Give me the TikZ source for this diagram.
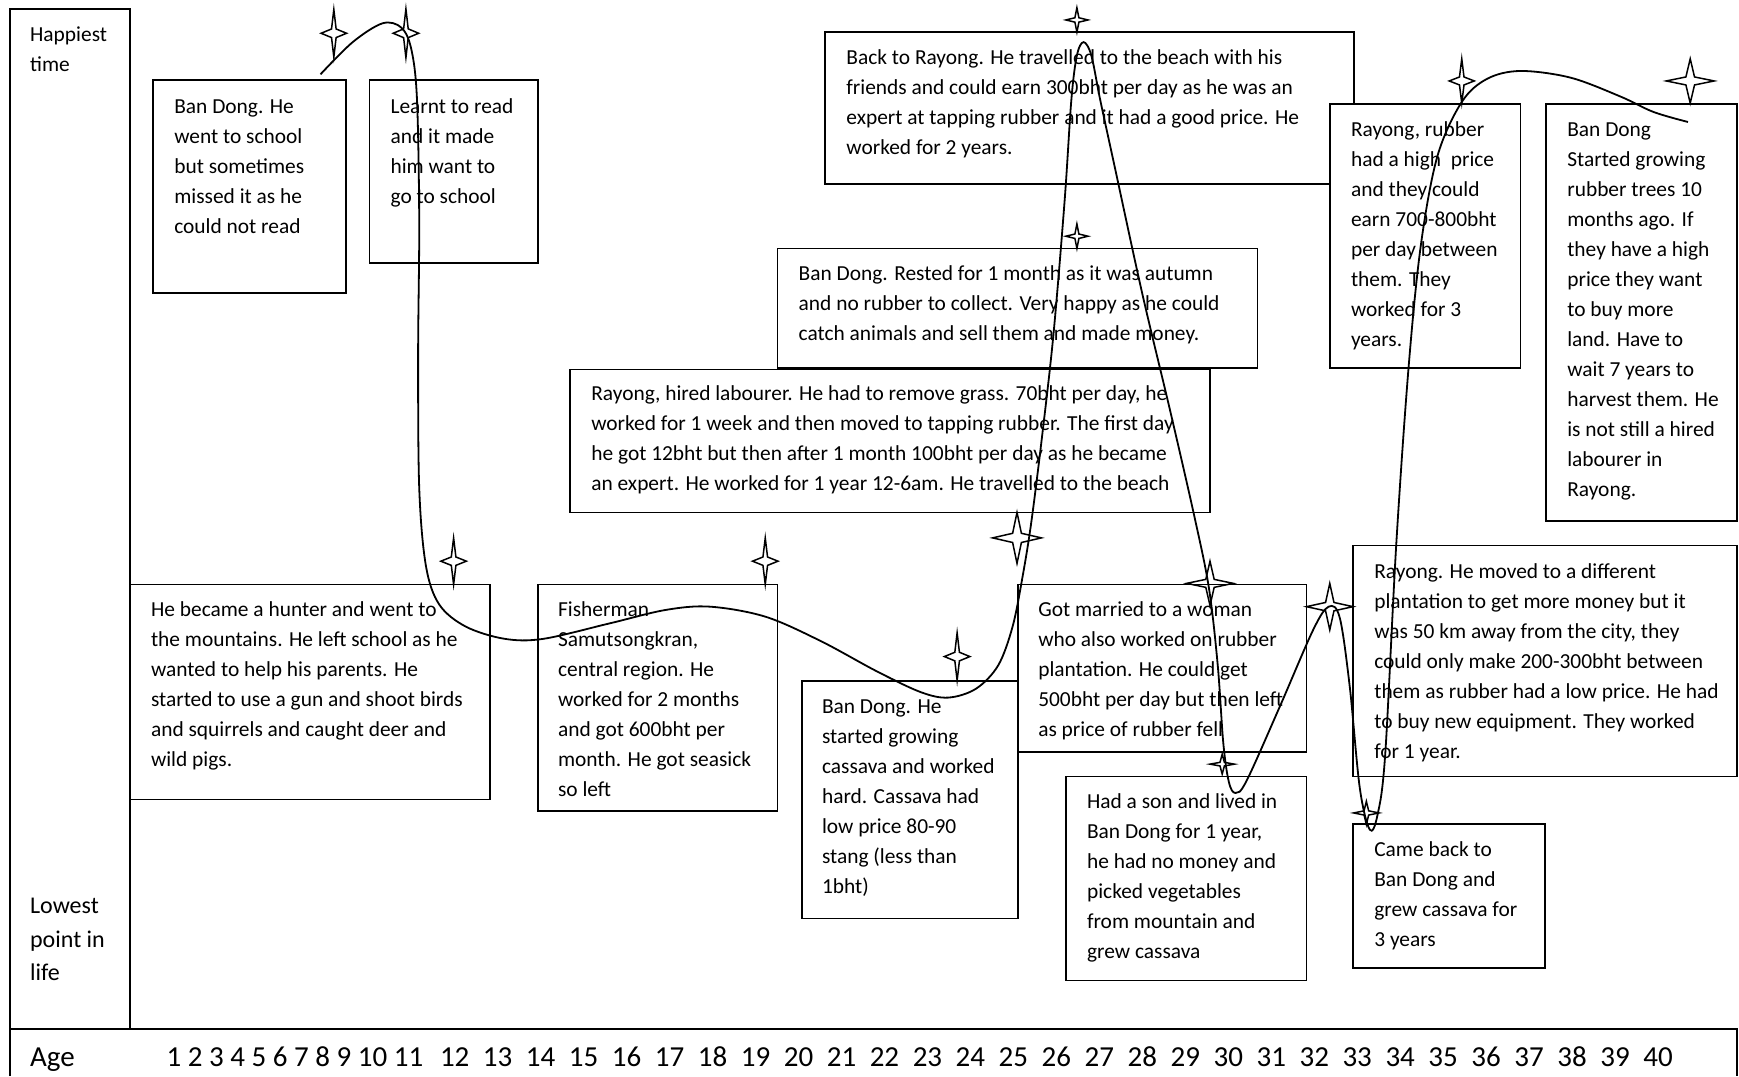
\documentclass[tikz,border=0pt]{standalone}
\usepackage{fontspec}
\setmainfont{Carlito}
% four-pointed sparkle: centre x, centre y, half width, half height
\newcommand{\sparkle}[4]{%
  \draw[sparkline] (#1,#2-#4) -- (#1+0.18*#3,#2-0.18*#4) -- (#1+#3,#2)
    -- (#1+0.18*#3,#2+0.18*#4) -- (#1,#2+#4) -- (#1-0.18*#3,#2+0.18*#4)
    -- (#1-#3,#2) -- (#1-0.18*#3,#2-0.18*#4) -- cycle;}
\begin{document}
\begin{tikzpicture}[x=1.109056pt,y=-1.109056pt,
  frame/.style={draw=black, line width=1.6pt},
  box/.style={draw=black, fill=white, line width=1.6pt},
  txt/.style={anchor=north west, inner sep=0pt, align=left, yshift=19pt,
    font=\fontsize{21.4}{30}\selectfont},
  lowtxt/.style={anchor=north west, inner sep=0pt, align=left, yshift=21.3pt,
    font=\fontsize{24}{33.3}\selectfont},
  agetxt/.style={inner sep=0pt, font=\fontsize{29}{34}\selectfont},
  sparkline/.style={draw=black, line width=1.5pt, line join=miter},
  lifeline/.style={draw=black, line width=1.8pt}]
\useasboundingbox (0,0) rectangle (1568,970.2);

% side column with the two extremes
\draw[frame] (9,928) -- (9,8) -- (117,8) -- (117,928);
\node[txt] (happy) at (27,35) {\strut Happiest\\time};
\node[lowtxt] (lowest) at (27,822) {\strut Lowest\\point in\\life};

% age row
\draw[draw=black, line width=2.2pt] (9,970.2) -- (9,928) -- (1566,928) -- (1566,970.2);
\node[agetxt, anchor=base west] (age) at (27,962) {Age};
\node[agetxt, anchor=base west] (n1) at (150,962) {1 2 3 4 5 6 7 8 9 10 11};
\foreach \n in {12,...,40}
  \node[agetxt, anchor=base] (n\n) at ({410+(\n-12)*38.75},962) {\n};

% event boxes
\draw[box] (138,72) rectangle (312,264);
\node[txt] (e1) at (157,100) {\strut Ban Dong. He\\went to school\\but sometimes\\missed it as he\\could not read};

\draw[box] (333,72) rectangle (485,237);
\node[txt] (e2) at (352,100) {\strut Learnt to read\\and it made\\him want to\\go to school};

\draw[box] (117,527) rectangle (442,721);
\node[txt] (e3) at (136,554) {\strut He became a hunter and went to\\the mountains. He left school as he\\wanted to help his parents. He\\started to use a gun and shoot birds\\and squirrels and caught deer and\\wild pigs.};

\draw[box] (485,527) rectangle (701,731);
\node[txt] (e4) at (503,554) {\strut Fisherman\\Samutsongkran,\\central region. He\\worked for 2 months\\and got 600bht per\\month. He got seasick\\so left};

\draw[box] (723,614) rectangle (918,828);
\node[txt] (e5) at (741,641) {\strut Ban Dong. He\\started growing\\cassava and worked\\hard. Cassava had\\low price 80-90\\stang (less than\\1bht)};

\draw[box] (514,333) rectangle (1091,462);
\node[txt] (e6) at (533,359) {\strut Rayong, hired labourer. He had to remove grass. 70bht per day, he\\worked for 1 week and then moved to tapping rubber. The first day\\he got 12bht but then after 1 month 100bht per day as he became\\an expert. He worked for 1 year 12-6am. He travelled to the beach};

\draw[box] (701,224) rectangle (1134,332);
\node[txt] (e7) at (720,251) {\strut Ban Dong. Rested for 1 month as it was autumn\\and no rubber to collect. Very happy as he could\\catch animals and sell them and made money.};

\draw[box] (744,29) rectangle (1221,166);
\node[txt] (e8) at (763,56) {\strut Back to Rayong. He travelled to the beach with his\\friends and could earn 300bht per day as he was an\\expert at tapping rubber and it had a good price. He\\worked for 2 years.};

\draw[box] (1199,94) rectangle (1371,332);
\node[txt] (e9) at (1218,121) {\strut Rayong, rubber\\had a high\ \ price\\and they could\\earn 700-800bht\\per day between\\them. They\\worked for 3\\years.};

\draw[box] (918,527) rectangle (1178,678);
\node[txt] (e10) at (936,554) {\strut Got married to a woman\\who also worked on rubber\\plantation. He could get\\500bht per day but then left\\as price of rubber fell};

\draw[box] (961,700) rectangle (1178,884);
\node[txt] (e11) at (980,727) {\strut Had a son and lived in\\Ban Dong for 1 year,\\he had no money and\\picked vegetables\\from mountain and\\grew cassava};

\draw[box] (1220,492) rectangle (1566,700);
\node[txt] (e12) at (1239,520) {\strut Rayong. He moved to a different\\plantation to get more money but it\\was 50 km away from the city, they\\could only make 200-300bht between\\them as rubber had a low price. He had\\to buy new equipment. They worked\\for 1 year.};

\draw[box] (1220,743) rectangle (1393,873);
\node[txt] (e13) at (1239,770) {\strut Came back to\\Ban Dong and\\grew cassava for\\3 years};

\draw[box] (1394,94) rectangle (1566,470);
\node[txt] (e14) at (1413,121) {\strut Ban Dong\\Started growing\\rubber trees 10\\months ago. If\\they have a high\\price they want\\to buy more\\land. Have to\\wait 7 years to\\harvest them. He\\is not still a hired\\labourer in\\Rayong.};

% markers at each turning point
\sparkle{301}{30}{11.5}{21.5}
\sparkle{366}{30}{11.5}{22}
\sparkle{409}{506}{11.5}{21}
\sparkle{690}{506}{11.5}{21}
\sparkle{863}{592}{11.5}{21.5}
\sparkle{917}{485}{22}{23}
\sparkle{971}{18}{10}{11}
\sparkle{971}{213}{10}{11}
\sparkle{1091}{526}{21}{20}
\sparkle{1199}{547}{21}{21}
\sparkle{1102}{689}{11}{9}
\sparkle{1232}{733}{11.5}{10.5}
\sparkle{1318}{73}{11.3}{20}
\sparkle{1524}{73}{21.6}{20}

% the life line
\draw[lifeline] plot[smooth, tension=0.55] coordinates {
  (289,67) (318,38) (345,21) (362,25) (371,45) (376,90) (378,200) (377,320)
  (378,440) (384,510) (396,545) (420,565) (455,576) (490,576) (550,562)
  (600,550) (640,547) (690,556) (740,578) (790,605) (830,624) (855,629)
  (880,621) (900,600) (913,565) (922,520) (930,470) (940,390) (950,300)
  (960,180) (966,90) (971,50) (977,38) (984,50) (992,90) (1005,150)
  (1030,265) (1055,370) (1077,466) (1090,530) (1098,600) (1103,670)
  (1108,705) (1114,715) (1124,704) (1154,637) (1184,568) (1198,547)
  (1208,557) (1217,619) (1226,710) (1235,748) (1242,735) (1249,680)
  (1259,490) (1270,332) (1281,222) (1296,141) (1318,92) (1341,71)
  (1371,64) (1416,70) (1461,87) (1491,101) (1522,110)};
\end{tikzpicture}
\end{document}
